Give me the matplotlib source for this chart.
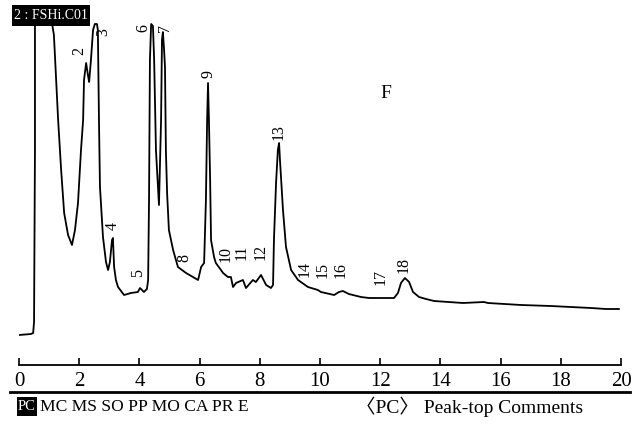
import matplotlib
matplotlib.use('Agg')
import matplotlib.pyplot as plt
from matplotlib.lines import Line2D
from matplotlib.patches import Rectangle

# retention time (min) and detector signal
time_min = [0.00, 0.40, 0.47, 0.50, 0.53, 0.53, 1.10, 1.16, 1.30, 1.40, 1.50, 1.63, 1.76, 1.86,
            1.96, 2.06, 2.13, 2.16, 2.23, 2.29, 2.33, 2.39, 2.46, 2.52, 2.59, 2.62, 2.66, 2.69,
            2.79, 2.89, 2.96, 3.02, 3.09, 3.12, 3.16, 3.22, 3.29, 3.49, 3.72, 3.95, 4.02, 4.15,
            4.25, 4.29, 4.32, 4.35, 4.39, 4.45, 4.49, 4.55, 4.65, 4.72, 4.75, 4.78, 4.82, 4.85,
            4.88, 4.92, 4.98, 5.12, 5.28, 5.55, 5.78, 5.95, 6.05, 6.15, 6.21, 6.25, 6.28, 6.31,
            6.35, 6.38, 6.48, 6.54, 6.71, 6.78, 6.94, 7.04, 7.11, 7.21, 7.44, 7.54, 7.77, 7.87,
            8.04, 8.21, 8.37, 8.44, 8.47, 8.54, 8.60, 8.64, 8.67, 8.77, 8.87, 9.04, 9.27, 9.60,
            9.93, 10.03, 10.47, 10.63, 10.76, 10.96, 11.36, 11.63, 12.46, 12.59, 12.69, 12.82,
            12.96, 13.09, 13.29, 13.52, 13.79, 14.75, 15.45, 15.58, 16.68, 17.67, 19.00, 19.50,
            19.93]
signal = [0, 1, 2, 13, 185, 311, 311, 300, 215, 165, 122, 100, 90, 105,
          132, 185, 215, 255, 272, 260, 253, 275, 305, 311, 311, 305, 208, 148,
          98, 73, 65, 73, 95, 97, 68, 55, 48, 40, 42, 43, 47, 43,
          46, 55, 135, 275, 311, 309, 275, 185, 130, 215, 295, 303, 285, 268,
          185, 142, 105, 85, 68, 62, 58, 55, 68, 72, 135, 215, 252, 215,
          155, 95, 78, 72, 65, 62, 58, 58, 48, 52, 55, 47, 55, 53,
          60, 50, 47, 50, 95, 152, 185, 192, 175, 125, 88, 65, 55, 48,
          45, 43, 40, 43, 44, 41, 38, 37, 37, 42, 52, 57,
          53, 43, 38, 36, 34, 32, 33, 32, 30, 29, 27, 26,
          26]

peak_names = ['2', '3', '4', '5', '6', '7', '8', '9', '10', '11', '12', '13',
              '14', '15', '16', '17', '18']
peak_label_t = [1.99, 2.79, 3.12, 3.95, 4.12, 4.85, 5.51, 6.31, 6.88, 7.41, 8.04, 8.64,
                9.50, 10.08, 10.68, 12.00, 12.79]
peak_label_h = [280, 299, 105, 58, 303, 303, 73, 257, 73, 75, 75, 195,
                58, 57, 57, 50, 62]

x_ticks = [0, 2, 4, 6, 8, 10, 12, 14, 16, 18, 20]

# method-bar words
bar_words = ['MC', 'MS', 'SO', 'PP', 'MO', 'CA', 'PR', 'E']

W, H = 638, 425
serif = 'Liberation Serif'
cjk = ['Liberation Serif', 'Noto Sans CJK SC']

fig = plt.figure(figsize=(W / 100, H / 100), dpi=100)
ax = fig.add_axes([19 / W, (H - 365) / H, 602 / W, (365 - 18) / H])

ax.plot(time_min, signal, color='black', lw=1.3)
ax.set_xlim(0, 20)
ax.set_ylim(-30, 317)

for s in ['left', 'right', 'top']:
    ax.spines[s].set_visible(False)
ax.spines['bottom'].set_linewidth(1.3)
ax.set_yticks([])
ax.set_xticks(x_ticks)
ax.set_xticklabels([str(v) for v in x_ticks], family=serif, fontsize=15)
ax.tick_params(axis='x', direction='in', length=5, width=1.2, pad=5)

for name, t, h in zip(peak_names, peak_label_t, peak_label_h):
    ax.text(t, h, name, rotation=90, ha='center', va='bottom', family=serif, fontsize=11.5)

ax.text(12.19, 242, 'F', ha='center', va='center', family=serif, fontsize=14)

# title badge
fig.add_artist(Rectangle((12 / W, 1 - 26 / H), 78 / W, 21 / H, facecolor='black',
                         edgecolor='none', transform=fig.transFigure))
fig.text(51 / W, 1 - 15.5 / H, '2 : FSHi.C01', color='white', family=serif, fontsize=10,
         va='center', ha='center')

fig.add_artist(Line2D([10 / W, 630 / W], [1 - 392 / H, 1 - 392 / H], color='black',
                      lw=2.0, transform=fig.transFigure))

# method bar
y_bar = 1 - 407 / H
fig.add_artist(Rectangle((17 / W, 1 - 416 / H), 20 / W, 19 / H, facecolor='black',
                         edgecolor='none', transform=fig.transFigure))
fig.text(27 / W, y_bar, 'PC', color='white', family=serif, fontsize=10.5,
         va='center', ha='center')
fig.text(40 / W, y_bar, ' '.join(bar_words), family=serif, fontsize=12.6,
         va='center', ha='left')
fig.text(356 / W, y_bar, '〈PC〉 Peak-top Comments', family=cjk, fontsize=14,
         va='center', ha='left')

fig.savefig('out.png', dpi=100, facecolor='white')
